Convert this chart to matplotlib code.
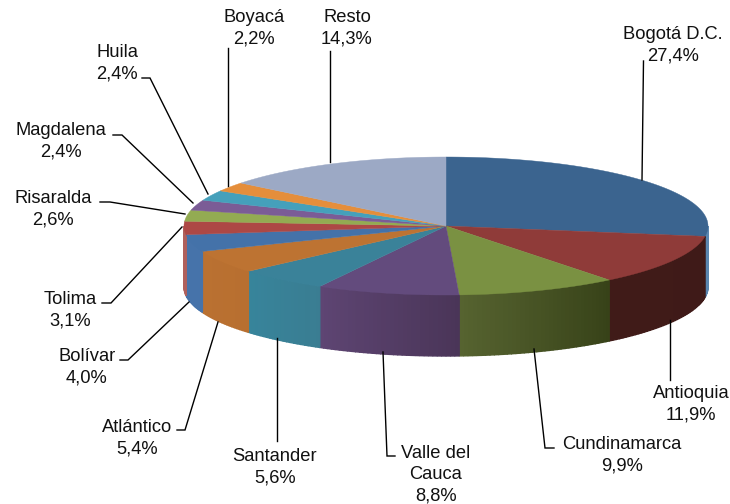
import matplotlib
matplotlib.use('Agg')
import matplotlib.pyplot as plt
from matplotlib.colors import to_rgb
import numpy as np

plt.rcParams['font.family'] = ['Liberation Sans', 'DejaVu Sans']

regions = ['Bogotá D.C.', 'Antioquia', 'Cundinamarca', 'Valle del\nCauca', 'Santander', 'Atlántico',
           'Bolívar', 'Tolima', 'Risaralda', 'Magdalena', 'Huila', 'Boyacá', 'Resto']
shares = [27.4, 11.9, 9.9, 8.8, 5.6, 5.4, 4.0, 3.1, 2.6, 2.4, 2.4, 2.2, 14.3]

top_colors = ['#3b648f', '#8f3b39', '#7a9142', '#634b7d', '#3a8299', '#bd7332',
              '#4472a9', '#ad4845', '#93ab52', '#7b5c96', '#45a0bb', '#e58e3b', '#9ca9c5']
# wall colour at the left and right end of each slice
wall_left = ['#5a86b0', '#401b18', '#566330', '#5e4573', '#37849b', '#ba7131',
             '#4673aa', '#b0605c', '#93ab52', '#7b5c96', '#45a0bb', '#e58e3b', '#9ca9c5']
wall_right = ['#5a86b0', '#3f1a18', '#374218', '#4a3558', '#3a7d92', '#b86f30',
              '#4673aa', '#b0605c', '#93ab52', '#7b5c96', '#45a0bb', '#e58e3b', '#9ca9c5']

# label centre (x, y of first line), then leader line, all in pixels
label_pos = [(673, 33), (691, 392), (622, 443), (436, 452), (275, 455), (137, 426),
             (87, 355), (70, 298), (53, 197), (61, 129), (117, 51), (254, 16), (347, 16)]
leaders = [
    [(643.5, 61), (642, 180)],
    [(670, 380), (670, 320)],
    [(554, 448), (545, 448), (534, 349)],
    [(395, 456), (387, 456), (383, 352)],
    [(277, 441), (277, 338)],
    [(177, 430), (185, 430), (218, 322)],
    [(120, 360), (128, 360), (189, 302)],
    [(102, 303), (111, 303), (182, 227)],
    [(100, 202), (110, 202), (185, 214)],
    [(113, 135), (122, 135), (193, 203)],
    [(142, 78), (150, 78), (208, 194)],
    [(228, 48), (228, 186)],
    [(330, 51), (330, 162)],
]

cx, cy, rx, ry, depth = 446, 226, 262, 69, 61


def rim(t):
    return cx + rx * np.sin(t), cy - ry * np.cos(t)


def mix(c1, c2, f):
    return tuple((1 - f) * a + f * b for a, b in zip(to_rgb(c1), to_rgb(c2)))


fig = plt.figure(figsize=(7.3, 5.04), dpi=100)
ax = fig.add_axes([0, 0, 1, 1])
ax.set_xlim(0, 730)
ax.set_ylim(504, 0)
ax.axis('off')

edges = np.radians(np.concatenate([[0], np.cumsum(shares)]) / sum(shares) * 360)

# side wall, front half only, sliced thin to get the shading
for i in range(len(shares)):
    start = max(edges[i], np.pi / 2)
    stop = min(edges[i + 1], 3 * np.pi / 2)
    if stop <= start:
        continue
    steps = np.linspace(start, stop, max(int((stop - start) * 60), 2) + 1)
    for j in range(len(steps) - 1):
        x0, y0 = rim(steps[j])
        x1, y1 = rim(steps[j + 1])
        # steps run clockwise, so the right end of the slice comes first
        f = 1 - (j + 0.5) / (len(steps) - 1)
        c = mix(wall_left[i], wall_right[i], f)
        ax.fill([x0, x1, x1, x0], [y0, y1, y1 + depth, y0 + depth],
                facecolor=c, edgecolor=c, lw=1.0, zorder=2)

# top face
for i in range(len(shares)):
    t = np.linspace(edges[i], edges[i + 1], 80)
    x, y = rim(t)
    ax.fill(np.r_[cx, x], np.r_[cy, y], color=top_colors[i], lw=0.3, zorder=3)

for pts in leaders:
    xs, ys = zip(*pts)
    ax.plot(xs, ys, color='black', lw=1.0, solid_joinstyle='miter', zorder=4)

for name, share, (x, y) in zip(regions, shares, label_pos):
    text = name + '\n' + f'{share:.1f}'.replace('.', ',') + '%'
    ax.text(x, y - 7, text, ha='center', va='top', fontsize=13.2, color='#111111',
            linespacing=1.33, zorder=5)

fig.savefig('out.png', dpi=100)
